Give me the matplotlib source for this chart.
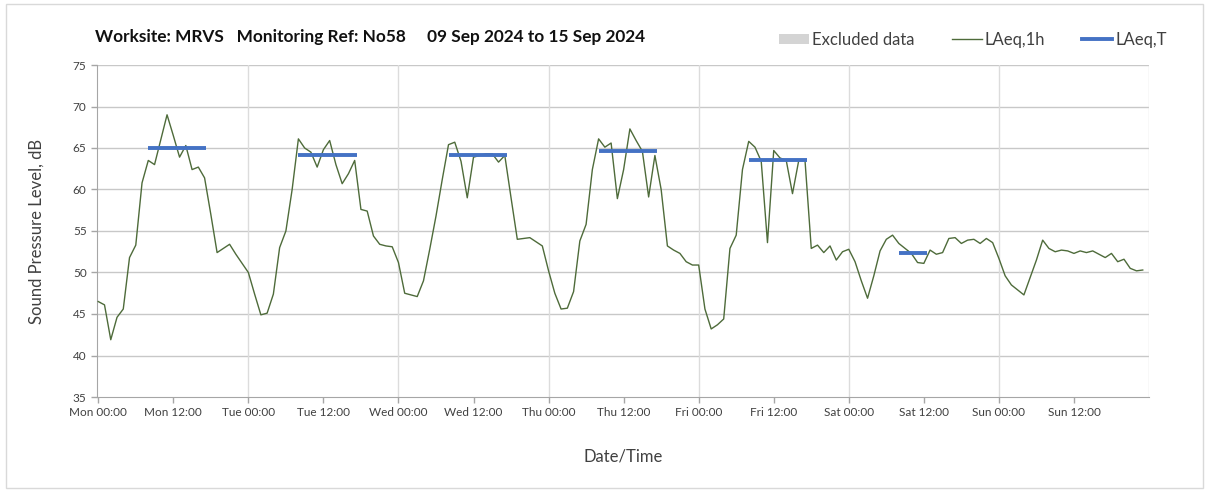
import matplotlib
matplotlib.use("Agg")
import matplotlib.pyplot as plt
from matplotlib.patches import Patch, Rectangle
from matplotlib.lines import Line2D
import numpy as np

# ---------------- data ----------------
hours = list(range(168))  # hourly samples, Mon 00:00 .. Sun 23:00

laeq_1h = [
    # Mon
    46.5, 46.1, 41.9, 44.6, 45.6, 51.8, 53.3, 60.8, 63.5, 63.0, 66.0, 69.0,
    66.5, 63.9, 65.3, 62.4, 62.7, 61.4, 57.0, 52.4, 52.9, 53.4, 52.2, 51.1,
    # Tue
    50.0, 47.4, 44.9, 45.1, 47.4, 53.0, 55.0, 60.0, 66.1, 65.0, 64.5, 62.7,
    64.8, 65.9, 63.0, 60.7, 61.9, 63.5, 57.6, 57.4, 54.4, 53.4, 53.2, 53.1,
    # Wed
    51.2, 47.5, 47.3, 47.1, 49.0, 52.8, 56.8, 61.2, 65.4, 65.7, 63.4, 59.0,
    63.9, 64.1, 64.3, 64.3, 63.3, 64.1, 59.0, 54.0, 54.1, 54.2, 53.7, 53.2,
    # Thu
    50.2, 47.5, 45.6, 45.7, 47.7, 53.8, 55.8, 62.4, 66.1, 65.1, 65.6, 58.9,
    62.4, 67.3, 65.9, 64.6, 59.1, 64.1, 60.0, 53.2, 52.7, 52.3, 51.3, 50.9,
    # Fri
    50.9, 45.6, 43.2, 43.7, 44.4, 52.9, 54.5, 62.4, 65.8, 65.1, 63.4, 53.6,
    64.7, 63.8, 63.5, 59.5, 63.5, 63.5, 52.9, 53.3, 52.4, 53.2, 51.5, 52.5,
    # Sat
    52.8, 51.3, 49.0, 46.9, 49.6, 52.6, 54.0, 54.5, 53.5, 52.9, 52.3, 51.2,
    51.1, 52.7, 52.2, 52.4, 54.1, 54.2, 53.5, 53.9, 54.0, 53.5, 54.1, 53.6,
    # Sun
    51.7, 49.6, 48.5, 47.9, 47.3, 49.4, 51.5, 53.9, 52.9, 52.5, 52.7, 52.6,
    52.3, 52.6, 52.4, 52.6, 52.2, 51.8, 52.3, 51.3, 51.6, 50.5, 50.2, 50.3,
]

laeq_t_start = [8, 32, 56, 80, 104, 128]
laeq_t_end = [17.2, 41.3, 65.3, 89.4, 113.3, 132.5]
laeq_t_value = [65.0, 64.1, 64.1, 64.6, 63.5, 52.3]

tick_hours = list(range(0, 168, 12))
tick_labels = ["Mon 00:00", "Mon 12:00", "Tue 00:00", "Tue 12:00",
               "Wed 00:00", "Wed 12:00", "Thu 00:00", "Thu 12:00",
               "Fri 00:00", "Fri 12:00", "Sat 00:00", "Sat 12:00",
               "Sun 00:00", "Sun 12:00"]
day_boundaries = [24, 48, 72, 96, 120, 144, 168]

title_text = "Worksite: MRVS   Monitoring Ref: No58     09 Sep 2024 to 15 Sep 2024"

# ---------------- style ----------------
FONT = ["Lato", "DejaVu Sans"]
plt.rcParams["font.family"] = FONT
GREEN = "#4E6B3A"
BLUE = "#4472C4"
GRID = "#C8C8C8"
VGRID = "#DCDCDC"
TXT = "#404040"

W, H = 1208, 492
fig = plt.figure(figsize=(W / 100, H / 100), dpi=100)
ax = fig.add_axes([97 / W, 1 - 397 / H, (1149 - 97) / W, (397 - 65) / H])

# outer chart border
fig.patches.append(Rectangle((6 / W, 4 / H), (1203 - 6) / W, (488 - 4) / H,
                             transform=fig.transFigure, fill=False,
                             edgecolor="#D9D9D9", linewidth=1.0))

ax.set_xlim(-0.2, 168)
ax.set_ylim(35, 75)
ax.set_yticks(range(35, 76, 5))
ax.set_xticks(tick_hours)
ax.set_xticklabels(tick_labels)

for y in range(40, 76, 5):
    ax.axhline(y, color=GRID, linewidth=1.0, zorder=0)
for d in day_boundaries:
    ax.axvline(d, color=VGRID, linewidth=1.0, zorder=0)

ax.plot(hours, laeq_1h, color=GREEN, linewidth=1.0, zorder=3)
for s, e, v in zip(laeq_t_start, laeq_t_end, laeq_t_value):
    ax.plot([s, e], [v, v], color=BLUE, linewidth=2.8,
            solid_capstyle="butt", zorder=4)

for side in ["top", "right"]:
    ax.spines[side].set_visible(False)
ax.spines["left"].set_color("#A6A6A6")
ax.spines["bottom"].set_color("#A6A6A6")
ax.tick_params(axis="both", colors="#A6A6A6", length=4, width=1,
               labelcolor=TXT, labelsize=8.5)
for lbl in ax.get_xticklabels() + ax.get_yticklabels():
    lbl.set_fontfamily(FONT)

ax.set_ylabel("Sound Pressure Level, dB", fontsize=12, color=TXT, labelpad=20)
ax.set_xlabel("Date/Time", fontsize=12, color=TXT, labelpad=22)

fig.text(95 / W, 1 - 37 / H, title_text, fontsize=12.4, fontweight="bold",
         color="#111111", va="center", ha="left")

handles = [Patch(facecolor="#D4D4D4", edgecolor="none"),
           Line2D([0], [0], color=GREEN, linewidth=1.0),
           Line2D([0], [0], color=BLUE, linewidth=2.8)]
fig.legend(handles, ["Excluded data", "LAeq,1h", "LAeq,T"], ncol=3,
           loc="center right", bbox_to_anchor=(1182 / W, 1 - 40 / H),
           frameon=False, fontsize=12, labelcolor=TXT, handlelength=1.8,
           handletextpad=0.2, columnspacing=2.2, handleheight=0.6)

fig.savefig("out.png", dpi=100)
